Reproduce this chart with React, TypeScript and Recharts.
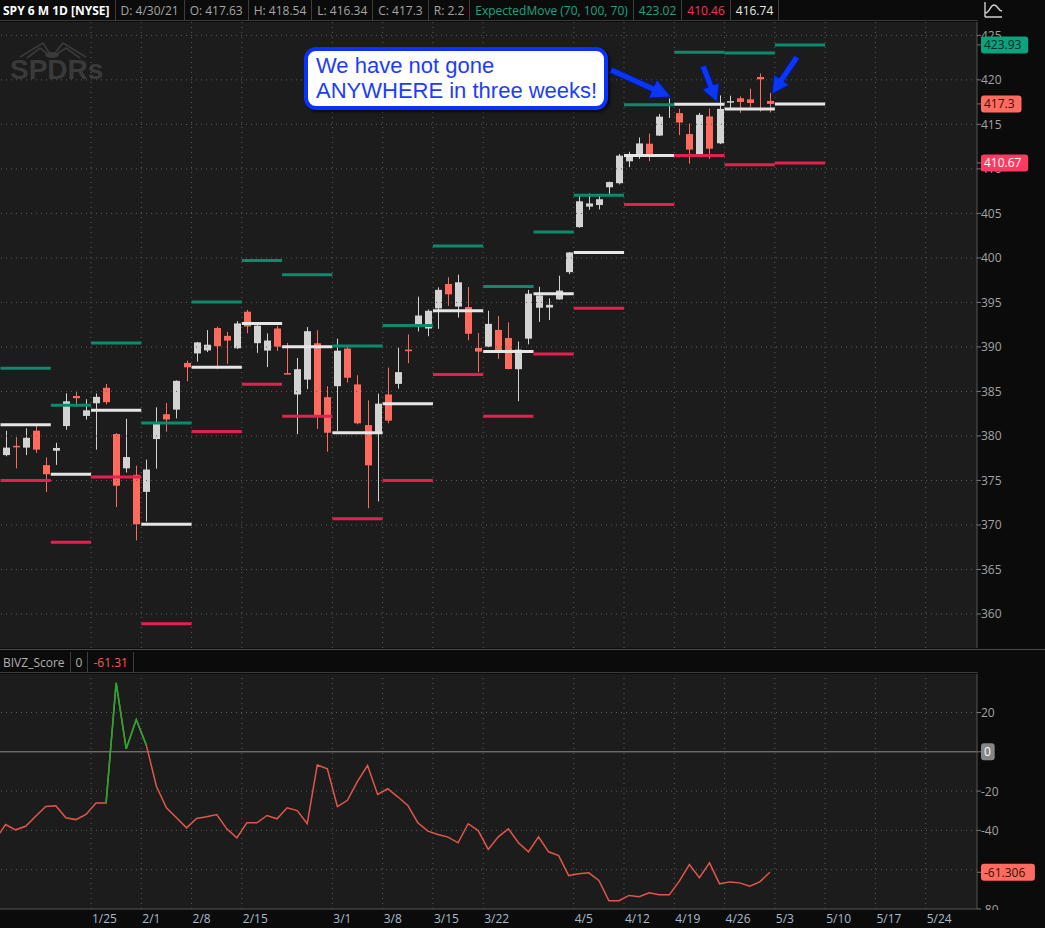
import React from 'react';
import { Bar, ComposedChart, Line, ReferenceLine, XAxis, YAxis } from 'recharts';

// SPY daily, 1/11/21 .. 4/30/21
const days = [
  '1/11', '1/12', '1/13', '1/14', '1/15', '1/19', '1/20', '1/21', '1/22',
  '1/25', '1/26', '1/27', '1/28', '1/29', '2/1', '2/2', '2/3', '2/4', '2/5',
  '2/8', '2/9', '2/10', '2/11', '2/12', '2/16', '2/17', '2/18', '2/19',
  '2/22', '2/23', '2/24', '2/25', '2/26', '3/1', '3/2', '3/3', '3/4', '3/5',
  '3/8', '3/9', '3/10', '3/11', '3/12', '3/15', '3/16', '3/17', '3/18', '3/19',
  '3/22', '3/23', '3/24', '3/25', '3/26', '3/29', '3/30', '3/31', '4/1',
  '4/5', '4/6', '4/7', '4/8', '4/9', '4/12', '4/13', '4/14', '4/15', '4/16',
  '4/19', '4/20', '4/21', '4/22', '4/23', '4/26', '4/27', '4/28', '4/29', '4/30',
];
const opens = [
  377.85, 378.89, 378.69, 380.59, 376.72, 378.34, 381.11, 384.49, 382.25,
  383.67, 385.41, 380.22, 376.36, 375.63, 373.72, 379.65, 382.44, 382.96, 388.2,
  389.27, 389.61, 392.12, 391.24, 389.85, 393.96, 390.42, 389.59, 392.07,
  387.06, 384.66, 386.33, 390.41, 384.35, 385.59, 389.82, 385.79, 381.22, 380.46,
  384.66, 385.85, 389.69, 392.23, 392.07, 394.33, 397.07, 394.53, 394.48, 389.88,
  390.03, 391.91, 391.0, 387.5, 390.93, 394.4, 394.42, 395.34, 398.4,
  403.46, 405.76, 405.94, 407.93, 408.39, 410.85, 411.53, 412.83, 413.74, 417.25,
  416.26, 413.91, 411.51, 415.89, 412.87, 417.44, 417.93, 417.81, 420.32, 417.63,
];
const highs = [
  380.58, 379.86, 380.86, 381.13, 377.58, 379.23, 384.79, 384.95, 384.13,
  384.77, 385.85, 380.32, 381.93, 376.67, 377.34, 383.22, 383.7, 386.24, 388.47,
  390.56, 391.89, 392.28, 391.69, 392.9, 394.17, 392.66, 391.52, 392.38,
  390.45, 388.76, 392.23, 391.88, 385.58, 390.92, 390.07, 386.83, 384.0, 384.76,
  387.68, 389.91, 391.4, 395.65, 394.21, 396.69, 397.83, 398.12, 396.72, 391.57,
  394.07, 393.46, 392.75, 390.6, 396.41, 396.75, 395.45, 398.0, 400.67,
  406.94, 407.24, 406.96, 408.58, 411.67, 411.93, 413.53, 413.96, 416.16, 417.91,
  416.74, 415.09, 416.29, 416.78, 418.25, 418.22, 418.14, 419.01, 420.72, 418.54,
];
const lows = [
  377.72, 376.36, 377.85, 378.1, 373.7, 376.75, 380.69, 383.25, 381.84,
  378.46, 383.54, 372.01, 375.89, 368.27, 370.38, 376.32, 380.48, 381.97, 386.14,
  388.35, 389.42, 387.5, 388.1, 389.77, 391.53, 389.33, 387.74, 389.55,
  386.94, 380.2, 385.27, 380.78, 378.23, 380.57, 386.0, 381.31, 371.88, 372.64,
  381.42, 385.31, 388.17, 391.74, 391.2, 392.03, 394.61, 393.3, 390.75, 387.15,
  389.97, 388.66, 387.47, 383.9, 390.29, 392.81, 393.02, 395.31, 398.18,
  403.38, 405.4, 405.45, 406.93, 408.26, 410.2, 411.12, 410.87, 413.69, 415.73,
  413.79, 410.59, 411.36, 411.13, 412.79, 416.81, 416.3, 416.9, 416.44, 416.34,
];
const closes = [
  378.69, 378.77, 379.79, 378.46, 375.7, 378.65, 383.89, 384.24, 382.88,
  384.39, 383.79, 374.41, 377.63, 370.07, 376.23, 381.55, 381.85, 386.19, 387.71,
  390.51, 390.25, 390.08, 390.71, 392.64, 392.3, 392.39, 390.72, 390.03,
  387.03, 387.5, 391.77, 382.33, 380.36, 389.58, 386.54, 381.42, 376.7, 383.63,
  381.72, 387.17, 389.58, 393.53, 394.06, 396.41, 395.91, 397.26, 391.48, 389.48,
  392.59, 389.5, 387.52, 389.7, 395.98, 395.78, 394.73, 396.33, 400.61,
  406.36, 406.12, 406.59, 408.52, 411.49, 411.64, 412.86, 411.45, 415.87, 417.26,
  415.21, 412.17, 416.07, 412.27, 416.74, 417.61, 417.52, 417.4, 420.06, 417.3,
];

// BIVZ_Score, one value per day (plus the day before the first one shown)
const bivzPrev = -44.6;
const bivz = [
  -37.0, -39.7, -37.9, -32.8, -27.8, -27.5, -33.6, -34.5, -31.9,
  -26.0, -26.0, 35.1, 1.5, 16.4, 3.4, -17.5, -28.5, -33.6, -38.7,
  -33.9, -33.1, -31.9, -39.2, -43.8, -36.1, -36.1, -32.4, -34.1,
  -28.5, -29.9, -36.6, -6.7, -8.6, -27.9, -24.7, -15.0, -7.0, -21.7,
  -18.8, -22.9, -27.3, -36.1, -40.4, -42.1, -43.4, -46.3, -36.6, -40.1,
  -49.7, -43.3, -39.2, -46.3, -50.9, -43.3, -50.9, -52.8, -63.0,
  -62.1, -61.6, -65.5, -75.8, -75.8, -73.1, -73.8, -71.8, -72.8, -72.8,
  -65.8, -57.4, -64.1, -56.5, -67.2, -66.2, -66.7, -68.4, -66.2, -61.306,
];

// ExpectedMove weekly levels: first day index of the week, upper / mid / lower
const emStart = [0, 5, 9, 14, 19, 24, 28, 33, 38, 43, 48, 53, 57, 62, 67, 72, 77];
const emUpper = [387.6, 383.45, 390.45, 381.45, 395.05, 399.7, 398.1, 390.1, 392.4, 401.35, 396.8, 402.9, 407.05, 417.2, 423.1, 423.02, 423.93];
const emMid = [381.26, 375.7, 382.88, 370.07, 387.71, 392.64, 390.03, 380.36, 383.63, 394.06, 389.48, 395.98, 400.61, 411.49, 417.26, 416.74, 417.3];
const emLower = [375.0, 368.05, 375.4, 358.9, 380.5, 385.8, 382.2, 370.7, 375.0, 386.9, 382.2, 389.2, 394.35, 406.0, 411.5, 410.46, 410.67];

// week ticks (index of first trading day of the week) and their labels
const dateTickIdx = [9, 14, 19, 24, 33, 38, 43, 48, 57, 62, 67, 72, 77, 82, 87, 92];
const dateLabels = ['1/25', '2/1', '2/8', '2/15', '3/1', '3/8', '3/15', '3/22', '4/5', '4/12', '4/19', '4/26', '5/3', '5/10', '5/17', '5/24'];

const priceTicks = [360, 365, 370, 375, 380, 385, 390, 395, 400, 405, 410, 415, 420, 425];
const priceBadges = [423.93, 417.3, 410.67];
const scoreTicks = [20, -20, -40, -80];
const scoreGrid = [20, -20, -40, -60];

const FONT = '"Open Sans", "Noto Sans", sans-serif';
const PLOT_BG = '#1c1c1c';
const GRID = '#5c5c5c';
const UP = '#d3d3d3';
const DOWN = '#ff6a5f';
const EM_UP = '#0b8b6c';
const EM_MID = '#e6e6e6';
const EM_LOW = '#e3204f';
const X_DOMAIN: [number, number] = [-0.55, 96.6];

const badgeStyle: Record<string, { bg: string; fg: string }> = {
  '423.93': { bg: '#0ba27e', fg: '#05261d' },
  '417.3': { bg: '#ff6b5f', fg: '#3a0c08' },
  '410.67': { bg: '#ff3a62', fg: '#ffffff' },
  '0': { bg: '#858585', fg: '#ffffff' },
  '-61.306': { bg: '#ff6b5f', fg: '#3a0c08' },
};

const rows = [
  { i: -1, bivz: bivzPrev, bivzUp: null as number | null },
  ...days.map((d, k) => ({
    i: k,
    date: d,
    o: opens[k],
    h: highs[k],
    l: lows[k],
    c: closes[k],
    range: [lows[k], highs[k]],
    bivz: bivz[k],
    bivzUp: bivz[k] > 0 || (bivz[k + 1] ?? 0) > 0 ? bivz[k] : null,
  })),
];

function Candle(props: any) {
  const { x, y, width, height, payload } = props;
  if (!payload || payload.o == null || height == null) return null;
  const { o, h, l, c } = payload;
  const top = Math.min(y, y + height);
  const hh = Math.abs(height);
  const py = (v: number) => top + ((h - v) / (h - l)) * hh;
  const color = c >= o ? UP : DOWN;
  const cx = Math.floor(x + width / 2) + 0.5;
  const bTop = py(Math.max(o, c));
  const bBot = py(Math.min(o, c));
  return (
    <g>
      <line x1={cx} x2={cx} y1={top} y2={top + hh} stroke={color} strokeWidth={1} />
      <rect x={cx - 3.5} y={bTop} width={7} height={Math.max(1.5, bBot - bTop)} fill={color} />
    </g>
  );
}

function Badge({ x, y, text }: { x: number; y: number; text: string }) {
  const s = badgeStyle[text];
  const w = text.length * 6.7 + 7;
  return (
    <g>
      <rect x={x} y={y - 8.5} width={w} height={17} rx={3} fill={s.bg} />
      <text x={x + 3} y={y} dominantBaseline="central" fontSize={12} fontFamily={FONT} fill={s.fg}>{text}</text>
    </g>
  );
}

function PriceTick(props: any) {
  const { x, y, payload } = props;
  const v = payload.value;
  if (priceBadges.includes(v)) return <Badge x={x} y={y} text={String(v)} />;
  return (
    <text x={x} y={y} dominantBaseline="central" fontSize={12} fontFamily={FONT} fill="#a3a3a3">{v}</text>
  );
}

function ScoreTick(props: any) {
  const { x, y, payload } = props;
  const v = payload.value;
  if (badgeStyle[String(v)]) return <Badge x={x} y={y} text={String(v)} />;
  return (
    <text x={x} y={y} dominantBaseline="central" fontSize={12} fontFamily={FONT} fill="#a3a3a3">{v}</text>
  );
}

function DateTick(props: any) {
  const { x, y, payload } = props;
  const k = dateTickIdx.indexOf(payload.value + 0.5);
  return (
    <text x={x + 1} y={y + 9} dominantBaseline="central" fontSize={12} fontFamily={FONT} fill="#a9bbcc">{dateLabels[k]}</text>
  );
}

function arrowPoints(x1: number, y1: number, x2: number, y2: number, shaft: number, headLen: number, headW: number) {
  const len = Math.hypot(x2 - x1, y2 - y1);
  const ux = (x2 - x1) / len, uy = (y2 - y1) / len;
  const px = -uy, py = ux;
  const bx = x2 - ux * headLen, by = y2 - uy * headLen;
  const pts = [
    [x1 + (px * shaft) / 2, y1 + (py * shaft) / 2],
    [bx + (px * shaft) / 2, by + (py * shaft) / 2],
    [bx + (px * headW) / 2, by + (py * headW) / 2],
    [x2, y2],
    [bx - (px * headW) / 2, by - (py * headW) / 2],
    [bx - (px * shaft) / 2, by - (py * shaft) / 2],
    [x1 - (px * shaft) / 2, y1 - (py * shaft) / 2],
  ];
  return pts.map((p) => p.join(',')).join(' ');
}

const headerCells = [
  { t: 'SPY 6 M 1D [NYSE]', c: '#ffffff', b: true },
  { t: 'D: 4/30/21', c: '#a6a6a6' },
  { t: 'O: 417.63', c: '#a6a6a6' },
  { t: 'H: 418.54', c: '#a6a6a6' },
  { t: 'L: 416.34', c: '#a6a6a6' },
  { t: 'C: 417.3', c: '#a6a6a6' },
  { t: 'R: 2.2', c: '#a6a6a6' },
  { t: 'ExpectedMove (70, 100, 70)', c: '#19a585' },
  { t: '423.02', c: '#19a585' },
  { t: '410.46', c: '#ff2f57' },
  { t: '416.74', c: '#e8e8e8' },
];

const lowerCells = [
  { t: 'BIVZ_Score', c: '#b0b0b0' },
  { t: '0', c: '#b0b0b0' },
  { t: '-61.31', c: '#ff5a4f' },
];

function CellRow({ cells, top }: { cells: { t: string; c: string; b?: boolean }[]; top: number }) {
  return (
    <div style={{ position: 'absolute', left: 0, top, height: 20, display: 'flex', borderBottom: '1px solid #3a3a3a', width: 978 }}>
      {cells.map((cell, k) => (
        <div
          key={k}
          style={{
            display: 'flex', alignItems: 'center', height: 20, padding: k === 0 ? '0 5px 0 3px' : '0 5px',
            borderRight: '1px solid #3e3e3e', color: cell.c, fontSize: 12, fontWeight: cell.b ? 700 : 400,
            whiteSpace: 'nowrap', fontFamily: FONT,
          }}
        >
          {cell.t}
        </div>
      ))}
    </div>
  );
}

const gridV = dateTickIdx.map((t) => (
  <ReferenceLine key={'v' + t} x={t - 0.5} stroke={GRID} strokeDasharray="1 4" />
));

export default function App() {
  const zero = { top: 0, right: 0, bottom: 0, left: 0 };
  return (
    <div style={{ position: 'absolute', left: 0, top: 0, width: 1045, height: 928, background: '#0b0b0b', overflow: 'hidden', fontFamily: FONT }}>
      <CellRow cells={headerCells} top={0} />
      <svg style={{ position: 'absolute', left: 980, top: 0 }} width={30} height={20}>
        <path d="M5 2 L5 17 M5 17 L22 17 M5 13 C10 13 10 5 14 5 C18 5 18 11 22 11" stroke="#cfcfcf" strokeWidth={1.4} fill="none" />
      </svg>

      <div style={{ position: 'absolute', left: 0, top: 22, width: 977, height: 626, background: PLOT_BG }} />
      <div style={{ position: 'absolute', left: 0, top: 674, width: 977, height: 235, background: PLOT_BG }} />

      <svg style={{ position: 'absolute', left: 0, top: 0 }} width={120} height={90}>
        <g stroke="#3a3a3a" strokeWidth={1.6} fill="none">
          <path d="M50 54 L43 43 L20 57 M49 55 L40 48 L27 58 M54 54 L63 43 L86 57 M55 55 L66 48 L80 58" />
        </g>
        <ellipse cx={52} cy={55} rx={7} ry={3} fill="#3a3a3a" />
        <text x={10} y={79} fontSize={28} fontWeight={900} fill="#3a3a3a" fontFamily='"Liberation Sans", Arial, sans-serif'>SPDRs</text>
      </svg>

      <div style={{ position: 'absolute', left: 0, top: 22 }}>
        <ComposedChart width={1045} height={626} data={rows} margin={zero}>
          <XAxis type="number" dataKey="i" domain={X_DOMAIN} allowDataOverflow hide />
          <YAxis
            orientation="right"
            type="number"
            domain={[356.18, 426.5]}
            allowDataOverflow
            ticks={[...priceTicks, ...priceBadges]}
            interval={0}
            width={68}
            tickSize={4}
            tickMargin={0}
            tickLine={{ stroke: '#777777' }}
            axisLine={{ stroke: '#555555' }}
            tick={(p: any) => <PriceTick {...p} />}
          />
          {priceTicks.map((v) => (
            <ReferenceLine key={'h' + v} y={v} stroke={GRID} strokeDasharray="1 4" />
          ))}
          {gridV}
          {emStart.map((s, k) => {
            const e = k < emStart.length - 1 ? emStart[k + 1] : s + 5;
            const seg = (v: number) => [{ x: s - 0.5, y: v }, { x: e - 0.5, y: v }];
            return [
              <ReferenceLine key={'u' + k} segment={seg(emUpper[k])} stroke={EM_UP} strokeWidth={3} />,
              <ReferenceLine key={'m' + k} segment={seg(emMid[k])} stroke={EM_MID} strokeWidth={3} />,
              <ReferenceLine key={'l' + k} segment={seg(emLower[k])} stroke={EM_LOW} strokeWidth={3} />,
            ];
          })}
          <Bar dataKey="range" barSize={7} isAnimationActive={false} shape={(p: any) => <Candle {...p} />} />
        </ComposedChart>
      </div>

      <div style={{ position: 'absolute', left: 0, top: 649, width: 1045, height: 1, background: '#4a4a4a' }} />
      <div style={{ position: 'absolute', left: 0, top: 651, width: 1045, height: 23 }}>
        <CellRow cells={lowerCells} top={1} />
      </div>

      <div style={{ position: 'absolute', left: 0, top: 674 }}>
        <ComposedChart width={1045} height={254} data={rows} margin={zero}>
          <XAxis
            type="number"
            dataKey="i"
            domain={X_DOMAIN}
            allowDataOverflow
            ticks={dateTickIdx.map((t) => t - 0.5)}
            interval={0}
            height={19}
            tickSize={0}
            tickMargin={0}
            tickLine={false}
            axisLine={{ stroke: '#555555' }}
            tick={(p: any) => <DateTick {...p} />}
          />
          <YAxis
            orientation="right"
            type="number"
            domain={[-80, 39.6]}
            allowDataOverflow
            ticks={[...scoreTicks, 0, bivz[bivz.length - 1]]}
            interval={0}
            width={68}
            tickSize={4}
            tickMargin={0}
            tickLine={{ stroke: '#777777' }}
            axisLine={{ stroke: '#555555' }}
            tick={(p: any) => <ScoreTick {...p} />}
          />
          {scoreGrid.map((v) => (
            <ReferenceLine key={'s' + v} y={v} stroke={GRID} strokeDasharray="1 4" />
          ))}
          {gridV}
          <ReferenceLine y={0} stroke="#8e8e8e" strokeWidth={1} />
          <Line type="linear" dataKey="bivz" stroke="#e0574c" strokeWidth={1.5} dot={false} isAnimationActive={false} />
          <Line type="linear" dataKey="bivzUp" stroke="#17b02b" strokeWidth={1.5} dot={false} isAnimationActive={false} connectNulls={false} />
        </ComposedChart>
      </div>
      <div style={{ position: 'absolute', left: 978, top: 910, width: 67, height: 18, background: '#0b0b0b' }} />

      <div
        style={{
          position: 'absolute', left: 304, top: 47, width: 304, height: 63, boxSizing: 'border-box',
          border: '4px solid #0a32ff', borderRadius: 12, background: '#ffffff', boxShadow: '2px 2px 3px rgba(0,0,0,0.7)',
          color: '#1a3dff', fontFamily: '"Liberation Sans", Arial, sans-serif', fontSize: 22, lineHeight: '25px',
          padding: '2px 0 0 8px', whiteSpace: 'nowrap',
        }}
      >
        We have not gone
        <br />
        ANYWHERE in three weeks!
      </div>
      <svg style={{ position: 'absolute', left: 0, top: 0, pointerEvents: 'none' }} width={1045} height={200}>
        <g fill="#0b36f2" stroke="#001a90" strokeWidth={1}>
          <polygon points={arrowPoints(611, 70, 671, 97, 6, 20, 20)} />
          <polygon points={arrowPoints(703, 66, 717, 102, 6, 17, 18)} />
          <polygon points={arrowPoints(797, 57, 772, 94, 6, 17, 18)} />
        </g>
      </svg>
    </div>
  );
}
